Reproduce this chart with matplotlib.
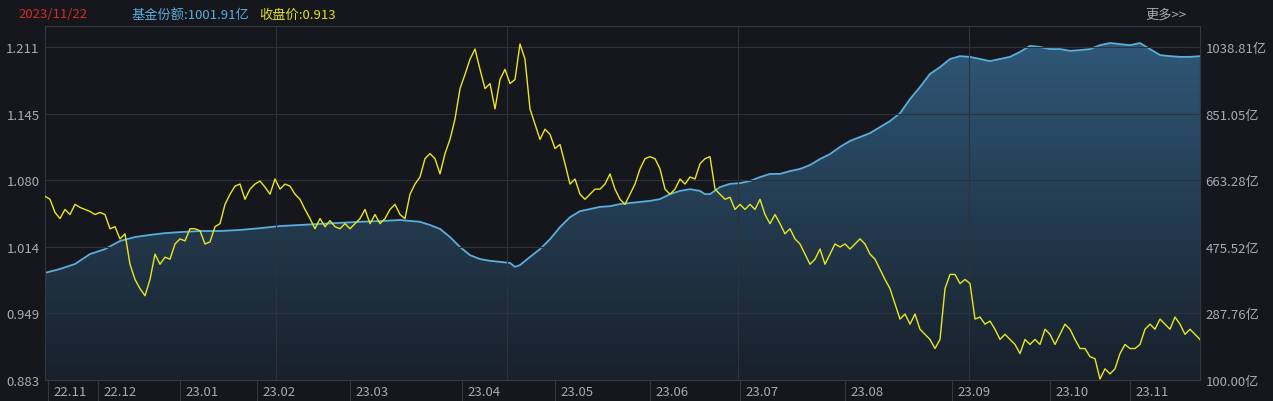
import matplotlib
matplotlib.use("Agg")
import matplotlib.pyplot as plt
import numpy as np
from matplotlib.transforms import blended_transform_factory
from matplotlib.patches import Polygon

plt.rcParams['font.family'] = ['Noto Sans CJK SC', 'DejaVu Sans']

# closing price, one value per sample step
price = [1.064,1.061,1.048,1.042,1.051,1.046,1.056,1.053,1.051,1.049,1.046,1.048,1.046,1.032,1.034,1.022,1.027,0.997,0.982,0.973,0.966,0.982,1.007,0.997,1.004,1.002,1.017,1.022,1.020,1.032,1.032,1.030,1.017,1.019,1.034,1.037,1.056,1.066,1.074,1.076,1.061,1.071,1.076,1.079,1.073,1.066,1.081,1.071,1.076,1.074,1.066,1.061,1.051,1.042,1.032,1.042,1.034,1.040,1.034,1.032,1.037,1.032,1.037,1.042,1.051,1.037,1.046,1.037,1.042,1.051,1.056,1.046,1.042,1.066,1.076,1.083,1.101,1.106,1.101,1.086,1.106,1.120,1.140,1.170,1.184,1.199,1.209,1.189,1.170,1.175,1.150,1.179,1.189,1.175,1.179,1.214,1.199,1.150,1.135,1.120,1.130,1.125,1.111,1.115,1.096,1.076,1.081,1.066,1.061,1.066,1.071,1.071,1.076,1.086,1.071,1.061,1.056,1.066,1.076,1.091,1.101,1.103,1.101,1.091,1.071,1.066,1.071,1.081,1.076,1.083,1.081,1.096,1.101,1.103,1.071,1.066,1.061,1.063,1.051,1.056,1.051,1.056,1.051,1.061,1.046,1.037,1.046,1.037,1.027,1.032,1.022,1.017,1.007,0.997,1.002,1.012,0.997,1.007,1.017,1.014,1.017,1.012,1.017,1.022,1.017,1.007,1.002,0.992,0.982,0.973,0.958,0.943,0.948,0.938,0.948,0.933,0.928,0.923,0.914,0.923,0.973,0.987,0.987,0.978,0.982,0.978,0.943,0.945,0.938,0.941,0.933,0.923,0.928,0.923,0.918,0.909,0.923,0.918,0.923,0.918,0.933,0.928,0.918,0.928,0.938,0.933,0.923,0.914,0.914,0.906,0.904,0.884,0.894,0.889,0.894,0.909,0.918,0.914,0.914,0.918,0.933,0.938,0.933,0.943,0.938,0.933,0.945,0.938,0.928,0.933,0.928,0.923,0.913]
price_idx = list(range(len(price)))

# fund shares (亿), sampled at these step indices
share_idx = [0,3,6,9,12,15,18,21,24,27,31,35,39,43,47,51,55,59,63,67,71,75,77,79,81,83,85,87,89,91,93,94,95,97,99,101,103,105,107,109,111,113,115,117,119,121,123,125,127,129,131,132,133,135,137,139,141,143,145,147,149,151,153,155,157,159,161,163,165,167,169,171,173,175,177,179,181,183,185,187,189,191,193,195,197,199,201,203,205,207,209,211,213,215,217,219,221,223,225,227,229,231]
share = [402,413,427,455,469,492,503,509,514,517,520,520,523,528,534,537,540,543,546,548,551,546,537,526,503,475,452,441,436,433,430,419,424,447,469,497,531,559,576,582,588,590,596,599,602,605,610,624,633,638,633,624,624,644,653,655,661,672,681,681,689,695,706,723,737,757,774,785,796,813,830,852,892,926,963,982,1005,1013,1011,1005,999,1005,1011,1025,1042,1039,1033,1033,1028,1030,1033,1044,1050,1047,1044,1050,1033,1016,1013,1011,1011,1013]

month_labels = ['22.11','22.12','23.01','23.02','23.03','23.04','23.05','23.06','23.07','23.08','23.09','23.10','23.11']
month_pos = [0.6,10.6,27,42.4,61,83.4,102,121,139,160,181.4,201,217]
left_ticks = [1.211,1.145,1.080,1.014,0.949,0.883]
right_ticks = [1038.81,851.05,663.28,475.52,287.76,100.00]

BG = '#15171c'
W, H = 1273, 402
fig = plt.figure(figsize=(W/100, H/100), dpi=100, facecolor=BG)
ax = fig.add_axes([45/W, (H-381)/H, 1155/W, 354/H])
ax.set_facecolor('#161a21')
ax2 = ax.twinx()
ax.set_zorder(2); ax.patch.set_visible(False)
ax2.set_zorder(1)
ax2.patch.set_facecolor('#161a21')

xmax = 231
ax.set_xlim(0, xmax); ax2.set_xlim(0, xmax)
ax.set_ylim(0.883, 1.2317)
ax2.set_ylim(100, 1098)

# share area with gradient
verts = [(share_idx[0], 100)] + list(zip(share_idx, share)) + [(share_idx[-1], 100)]
poly = Polygon(verts, closed=True, facecolor='none', edgecolor='none')
ax2.add_patch(poly)
grad = np.linspace(0, 1, 256).reshape(-1, 1)
from matplotlib.colors import LinearSegmentedColormap
cmap = LinearSegmentedColormap.from_list('g', ['#18202a', '#2f5878'])
im = ax2.imshow(grad, extent=[0, xmax, 100, 1060], origin='lower', aspect='auto', cmap=cmap, zorder=1)
im.set_clip_path(poly)
ax2.plot(share_idx, share, color='#5aaedc', lw=1.3, zorder=3)

ax.plot(price_idx, price, color='#e8e820', lw=1.0, zorder=5)

# grid
for v in left_ticks:
    ax.axhline(v, color='#2e323a', lw=0.8, zorder=0)
for k in range(1, 5):
    ax.axvline(xmax*k/5, color='#2e323a', lw=0.8, zorder=0)

ax.set_yticks(left_ticks)
ax.set_yticklabels([f'{v:.3f}' for v in left_ticks])
ax2.set_yticks(right_ticks)
ax2.set_yticklabels([f'{v:.2f}亿' for v in right_ticks])
for a in (ax, ax2):
    a.tick_params(axis='y', length=0, labelsize=9.5, colors='#a8acb2', pad=4)
    a.set_xticks([])
    for s in a.spines.values():
        s.set_color('#33373f'); s.set_linewidth(0.8)

tr = blended_transform_factory(ax.transData, ax.transAxes)
for lab, p in zip(month_labels, month_pos):
    ax.plot([p, p], [0, -0.06], color='#33373f', lw=0.8, transform=tr, clip_on=False)
    ax.text(p + 1.0, -0.032, lab, transform=tr, ha='left', va='center', fontsize=9.5, color='#a8acb2')

fig.text(18/W, 1-15/H, '2023/11/22', color='#d42a2a', fontsize=9.5, va='center')
fig.text(131/W, 1-15/H, '基金份额:1001.91亿', color='#5aaedc', fontsize=9.5, va='center')
fig.text(259/W, 1-15/H, '收盘价:0.913', color='#e0e020', fontsize=9.5, va='center')
fig.text(1145/W, 1-15/H, '更多>>', color='#a8acb2', fontsize=9.5, va='center')

fig.savefig('out.png', dpi=100, facecolor=BG)
